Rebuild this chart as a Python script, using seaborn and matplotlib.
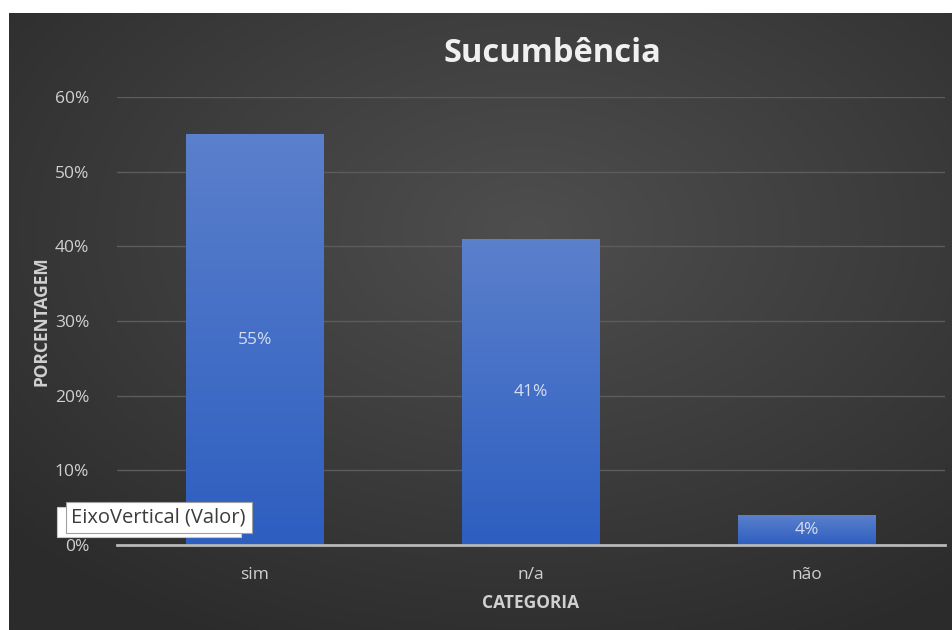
import numpy as np
import pandas as pd
import matplotlib
matplotlib.use("Agg")
import matplotlib.pyplot as plt
import seaborn as sns
from matplotlib.patches import Rectangle
from matplotlib.colors import LinearSegmentedColormap

categories = ["sim", "n/a", "não"]
values = [0.55, 0.41, 0.04]
value_labels = ["55%", "41%", "4%"]
yticks = [0.0, 0.1, 0.2, 0.3, 0.4, 0.5, 0.6]
ytick_labels = ["0%", "10%", "20%", "30%", "40%", "50%", "60%"]
title = "Sucumbência"
xlabel = "CATEGORIA"
ylabel = "PORCENTAGEM"
tooltip = "EixoVertical (Valor)"

sns.set_theme(style="dark")
plt.rcParams['font.family'] = ['Open Sans', 'DejaVu Sans']

W, H = 952, 630
fig = plt.figure(figsize=(W / 100, H / 100), dpi=100)
fig.patch.set_facecolor("white")

# background with radial gradient
bg = fig.add_axes([9 / W, 0, (W - 9) / W, (H - 13) / H])
bg.set_axis_off()
ny, nx = 300, 460
yy, xx = np.mgrid[0:ny, 0:nx]
cx, cy = nx * 0.55, ny * 0.35
r = np.sqrt(((xx - cx) / nx) ** 2 + ((yy - cy) / ny) ** 2)
r = np.clip(r / 0.75, 0, 1)
cmap_bg = LinearSegmentedColormap.from_list("bg", ["#4e4e4e", "#3d3d3d", "#2b2b2b"])
bg.imshow(r, cmap=cmap_bg, aspect="auto", extent=[0, 1, 0, 1], origin="upper")
bg.set_xlim(0, 1)
bg.set_ylim(0, 1)

# main axes
left, right = 117 / W, 945 / W
bottom, top = 1 - 545 / H, 1 - 97 / H
ax = fig.add_axes([left, bottom, right - left, top - bottom])
ax.patch.set_alpha(0)

df = pd.DataFrame({"cat": categories, "val": values})
sns.barplot(data=df, x="cat", y="val", ax=ax, color="#4472c4", width=0.5,
            saturation=1, edgecolor="none", zorder=3)

ax.set_xlim(-0.5, 2.5)
ax.set_ylim(0, 0.6)
ax.set_yticks(yticks)
ax.set_yticklabels(ytick_labels)
for s in ["top", "right", "left"]:
    ax.spines[s].set_visible(False)
ax.spines["bottom"].set_color("#b8b8b8")
ax.spines["bottom"].set_linewidth(2)
ax.spines["bottom"].set_zorder(5)
ax.yaxis.grid(True, color="#5c5c5c", linewidth=1, zorder=0)
ax.xaxis.grid(False)
ax.set_axisbelow(True)
ax.tick_params(axis="both", length=0, colors="#d0d0d0", labelsize=12.5)
ax.tick_params(axis="y", pad=20)
ax.tick_params(axis="x", pad=16)

# gradient fill on bars
cmap_bar = LinearSegmentedColormap.from_list("bar", ["#2d5ec0", "#5b80cc"])
grad = np.linspace(0, 1, 256).reshape(-1, 1)
for p, lab in zip(ax.patches, value_labels):
    x0, y0 = p.get_x(), p.get_y()
    w, h = p.get_width(), p.get_height()
    im = ax.imshow(grad, cmap=cmap_bar, aspect="auto", origin="lower",
                   extent=[x0, x0 + w, y0, y0 + h], zorder=4)
    im.set_clip_path(p)
    ax.text(x0 + w / 2, y0 + h / 2, lab, ha="center", va="center",
            color="#d5ddf0", fontsize=12.5, zorder=6)
ax.set_xlim(-0.5, 2.5)
ax.set_ylim(0, 0.6)

ax.set_xlabel(xlabel, color="#d0d0d0", fontsize=12.5, fontweight="bold", labelpad=8)
ax.set_ylabel(ylabel, color="#d0d0d0", fontsize=12.5, fontweight="bold", labelpad=3)

fig.text(552 / W, 1 - 53 / H, title, ha="center", va="center",
         color="#f0f0f0", fontsize=23.5, fontweight="bold")

# tooltip overlay
fig.patches.append(Rectangle((57 / W, 1 - 537 / H), 184 / W, 30 / H,
                             transform=fig.transFigure, facecolor="white",
                             edgecolor="#c8c8c8", linewidth=0.8, zorder=20))
fig.patches.append(Rectangle((66 / W, 1 - 533 / H), 186 / W, 31 / H,
                             transform=fig.transFigure, facecolor="white",
                             edgecolor="#a0a0a0", linewidth=0.8, zorder=21))
fig.text(71 / W, 1 - 518 / H, tooltip, ha="left", va="center",
         color="#3c3c3c", fontsize=14.5, zorder=22)

fig.savefig("out.png", dpi=100)
